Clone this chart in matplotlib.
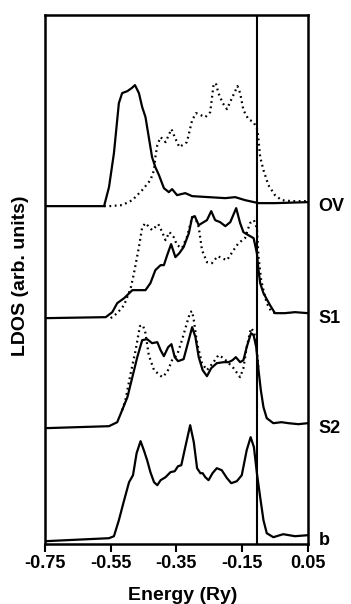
import matplotlib.pyplot as plt
import matplotlib.transforms as mtransforms

plt.rcParams['font.family'] = ['Liberation Sans', 'DejaVu Sans']
plt.rcParams['font.weight'] = 'bold'

# curves: energy (Ry) and offset LDOS (arb. units)
ov_solid_e = [-0.75, -0.570, -0.555, -0.540, -0.525, -0.515, -0.499, -0.486, -0.476, -0.464,
              -0.454, -0.444, -0.434, -0.424, -0.414, -0.403, -0.388, -0.373, -0.363, -0.348,
              -0.323, -0.302, -0.252, -0.201, -0.171, -0.141, -0.100, -0.050, 0.050]
ov_solid_y = [338, 338, 357, 391, 441, 451, 453, 456, 459, 451,
              437, 427, 407, 387, 377, 369, 356, 352, 355, 349,
              351, 348, 347, 346, 347, 344, 341, 341, 342]

ov_dot_e = [-0.570, -0.555, -0.515, -0.484, -0.454, -0.429, -0.418, -0.414, -0.408, -0.398,
            -0.383, -0.365, -0.355, -0.341, -0.318, -0.302, -0.290, -0.262, -0.247, -0.237,
            -0.230, -0.222, -0.209, -0.196, -0.181, -0.164, -0.156, -0.146, -0.131, -0.115,
            -0.103, -0.095, -0.085, -0.070, -0.050, -0.030, 0.000, 0.050]
ov_dot_y = [338, 338, 339, 344, 354, 364, 374, 387, 399, 407,
            402, 415, 407, 397, 402, 424, 431, 427, 432, 459,
            461, 451, 441, 435, 446, 458, 451, 434, 425, 422,
            414, 387, 374, 359, 349, 344, 343, 343]

s1_solid_e = [-0.75, -0.565, -0.545, -0.530, -0.509, -0.484, -0.444, -0.429, -0.414, -0.398,
              -0.388, -0.378, -0.366, -0.353, -0.341, -0.328, -0.312, -0.302, -0.294, -0.282,
              -0.267, -0.257, -0.244, -0.232, -0.217, -0.201, -0.186, -0.168, -0.156, -0.146,
              -0.131, -0.115, -0.105, -0.100, -0.095, -0.085, -0.065, -0.050, -0.020, 0.011, 0.050]
s1_solid_y = [226, 227, 232, 241, 246, 254, 254, 261, 274, 279,
              279, 289, 300, 287, 291, 297, 311, 327, 328, 319,
              322, 324, 333, 324, 322, 318, 322, 336, 321, 312,
              309, 306, 291, 274, 261, 251, 239, 231, 231, 232, 231]

s1_dot_e = [-0.550, -0.530, -0.509, -0.489, -0.479, -0.464, -0.454, -0.444, -0.424, -0.405,
            -0.393, -0.383, -0.371, -0.358, -0.348, -0.333, -0.318, -0.302, -0.290, -0.282,
            -0.272, -0.257, -0.242, -0.224, -0.212, -0.196, -0.176, -0.161, -0.141, -0.126,
            -0.114, -0.105, -0.100, -0.092, -0.085, -0.075, -0.060, -0.045]
s1_dot_y = [226, 231, 239, 256, 271, 297, 317, 321, 314, 320,
            312, 304, 312, 307, 299, 296, 307, 327, 324, 317,
            294, 282, 281, 288, 286, 284, 294, 301, 306, 321,
            324, 316, 287, 264, 254, 241, 232, 231]

s2_solid_e = [-0.75, -0.555, -0.530, -0.515, -0.499, -0.484, -0.469, -0.454, -0.439, -0.424,
              -0.408, -0.398, -0.388, -0.375, -0.365, -0.355, -0.345, -0.328, -0.315, -0.302,
              -0.292, -0.282, -0.270, -0.257, -0.244, -0.227, -0.206, -0.191, -0.179, -0.169,
              -0.156, -0.146, -0.136, -0.123, -0.115, -0.107, -0.100, -0.093, -0.085, -0.075,
              -0.055, -0.030, -0.009, 0.021, 0.050]
s2_solid_y = [116, 118, 122, 134, 147, 167, 187, 204, 205, 201,
              202, 194, 188, 197, 200, 187, 183, 185, 201, 217,
              207, 187, 174, 168, 176, 181, 182, 182, 184, 187,
              182, 184, 197, 211, 209, 197, 174, 154, 137, 126,
              121, 122, 121, 120, 121]

s2_dot_e = [-0.515, -0.505, -0.489, -0.474, -0.461, -0.452, -0.444, -0.434, -0.418, -0.393,
            -0.378, -0.363, -0.348, -0.333, -0.318, -0.308, -0.302, -0.297, -0.287, -0.272,
            -0.257, -0.237, -0.222, -0.206, -0.191, -0.176, -0.156, -0.146, -0.136, -0.123,
            -0.113, -0.105, -0.100]
s2_dot_y = [134, 144, 171, 194, 218, 219, 211, 189, 174, 167,
            172, 184, 189, 204, 221, 232, 233, 224, 201, 181,
            174, 182, 189, 186, 181, 176, 167, 176, 197, 216,
            212, 194, 174]

b_e = [-0.75, -0.555, -0.540, -0.525, -0.509, -0.494, -0.482, -0.471, -0.459, -0.449,
       -0.439, -0.429, -0.418, -0.408, -0.398, -0.383, -0.368, -0.355, -0.345, -0.335,
       -0.323, -0.308, -0.297, -0.287, -0.277, -0.270, -0.262, -0.252, -0.240, -0.227,
       -0.212, -0.196, -0.183, -0.166, -0.151, -0.136, -0.124, -0.114, -0.105, -0.095,
       -0.085, -0.075, -0.055, -0.025, 0.011, 0.050]
b_y = [3, 6, 8, 24, 44, 62, 69, 91, 103, 94,
       84, 72, 62, 59, 64, 67, 72, 73, 78, 79,
       97, 119, 102, 76, 71, 71, 67, 64, 71, 76,
       74, 66, 61, 63, 69, 94, 107, 97, 71, 47,
       24, 11, 7, 10, 8, 9]

labels = ['OV', 'S1', 'S2', 'b']
label_y = [338, 226, 116, 4]
fermi = -0.105
xticks = [-0.75, -0.55, -0.35, -0.15, 0.05]

W, H = 351, 604
fig = plt.figure(figsize=(W / 100, H / 100), dpi=100)
ax = fig.add_axes([0.128, 0.099, 0.749, 0.876])

solid = dict(color='black', lw=1.6, solid_joinstyle='round')
dots = dict(color='black', lw=1.6, linestyle=(0, (0.8, 1.6)))
ax.plot(ov_solid_e, ov_solid_y, **solid)
ax.plot(ov_dot_e, ov_dot_y, **dots)
ax.plot(s1_solid_e, s1_solid_y, **solid)
ax.plot(s1_dot_e, s1_dot_y, **dots)
ax.plot(s2_solid_e, s2_solid_y, **solid)
ax.plot(s2_dot_e, s2_dot_y, **dots)
ax.plot(b_e, b_y, **solid)
ax.axvline(fermi, color='black', lw=1.5)

ax.set_xlim(-0.75, 0.05)
ax.set_ylim(0, 529)
ax.set_xticks(xticks)
ax.set_xticklabels(['%.2f' % t for t in xticks])
ax.set_yticks([])
ax.tick_params(axis='x', direction='out', length=6, width=1.5, labelsize=13, pad=2)
for s in ax.spines.values():
    s.set_linewidth(1.8)

fig.text(183 / W, 1 - 600 / H, 'Energy (Ry)', fontsize=14, fontweight='bold',
         ha='center', va='baseline')
fig.text(21 / W, 1 - 275.5 / H, 'LDOS (arb. units)', fontsize=14, fontweight='bold',
         rotation=90, ha='center', va='center')

trans = mtransforms.blended_transform_factory(ax.transAxes, ax.transData)
for lab, yy in zip(labels, label_y):
    ax.text(1.04, yy, lab, transform=trans, fontsize=13, fontweight='bold',
            ha='left', va='center')

fig.savefig('out.png', dpi=100)
